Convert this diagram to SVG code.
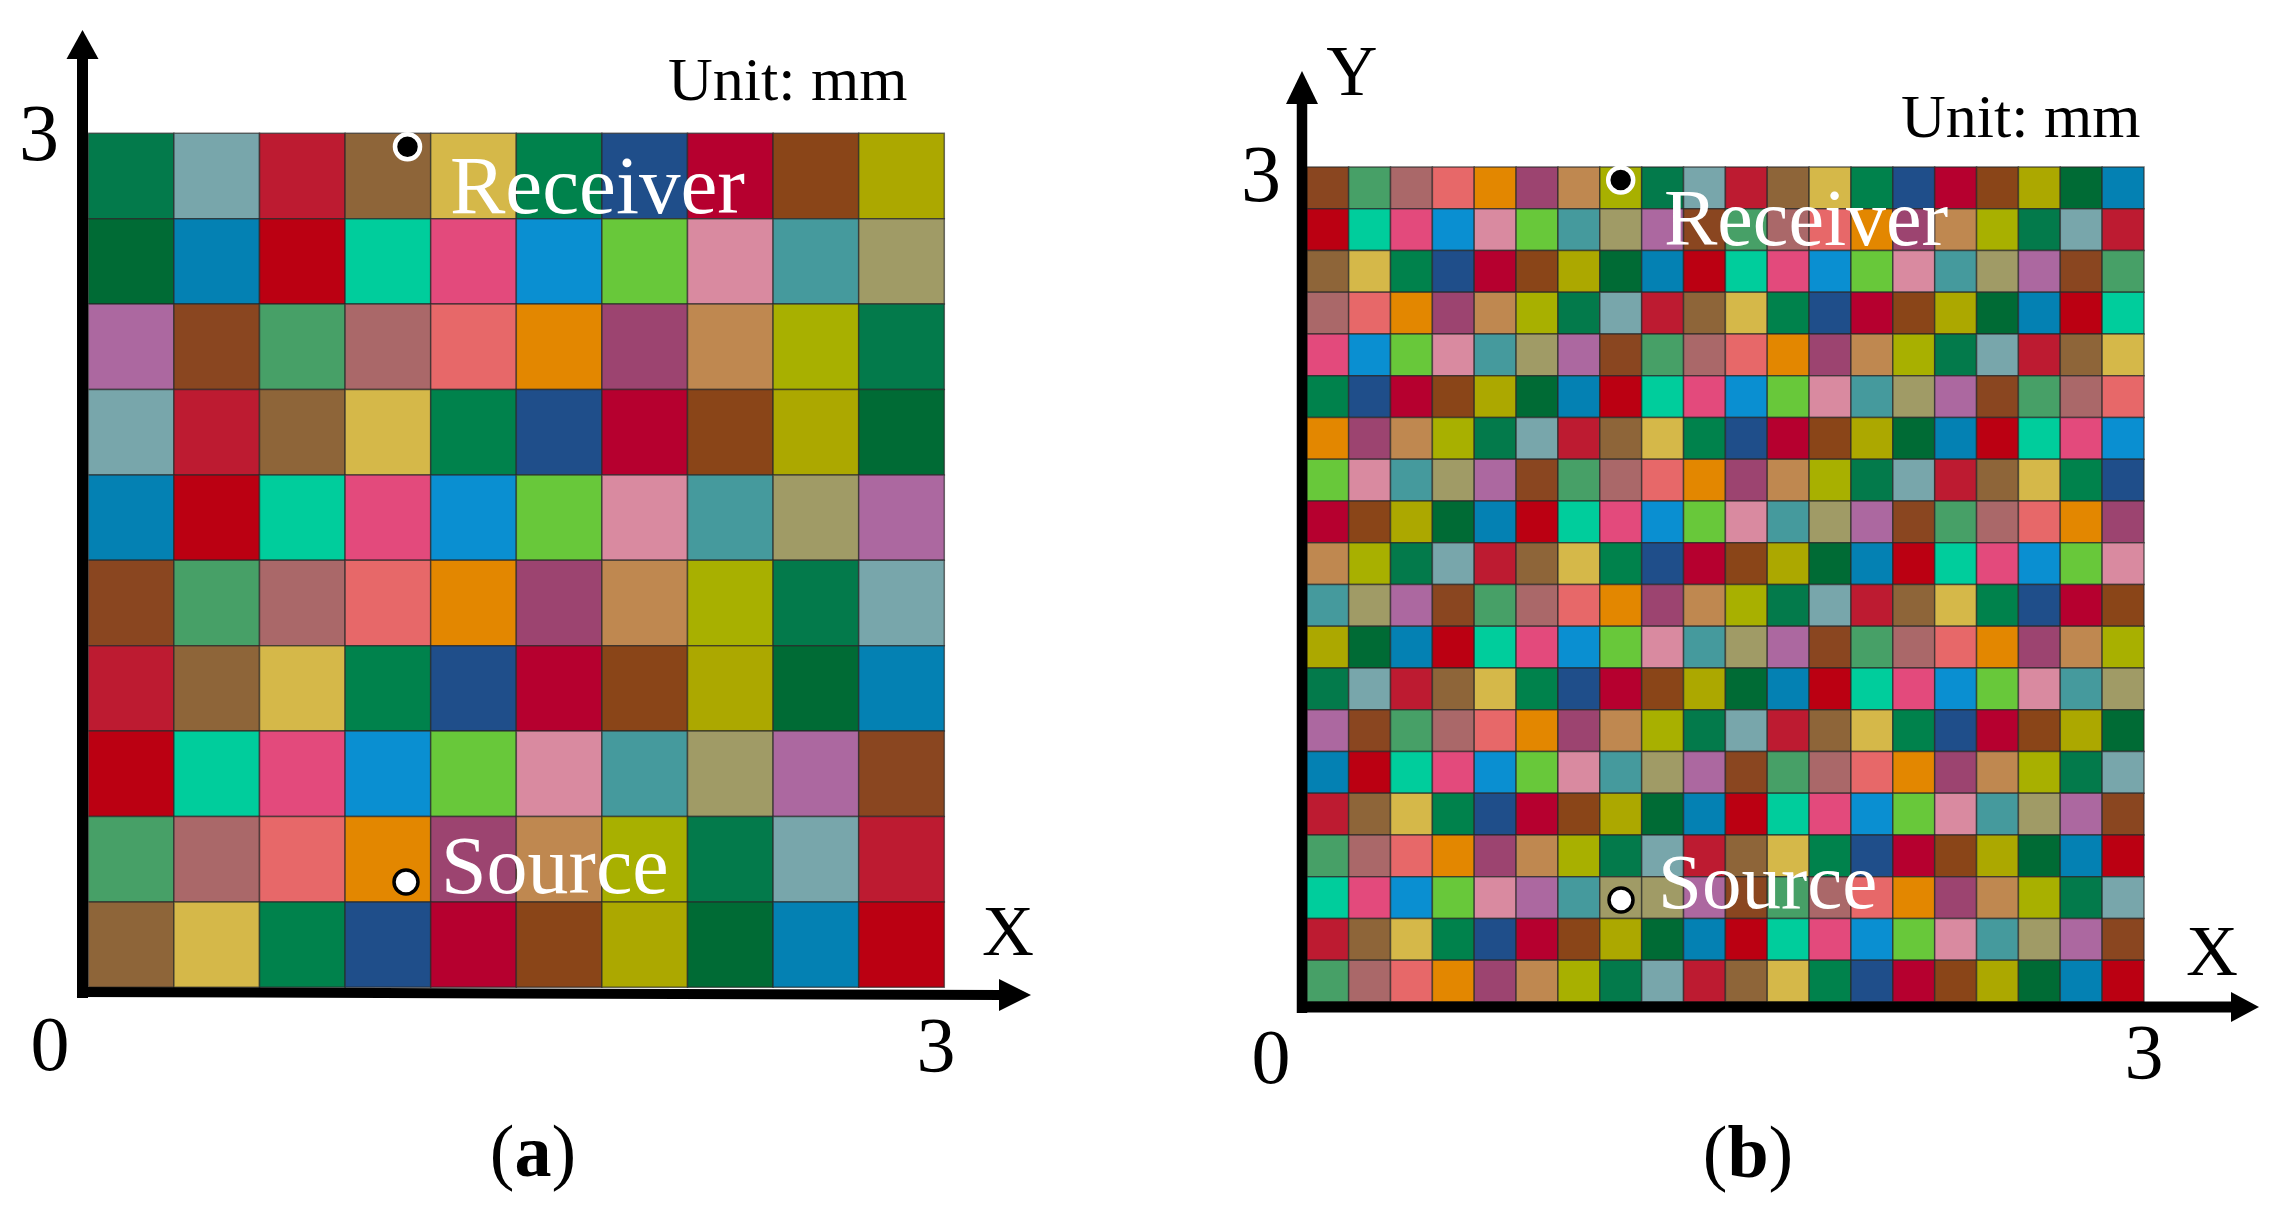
<svg xmlns="http://www.w3.org/2000/svg" width="2292" height="1211" viewBox="0 0 2292 1211">
<style>
.t{font-family:"Liberation Serif","Times New Roman",serif;fill:#000}
.w{font-family:"Liberation Serif","Times New Roman",serif;fill:#fff}
.grid rect{stroke:#262626;stroke-opacity:.65;stroke-width:1.5px;vector-effect:non-scaling-stroke}
.k0{fill:#037a4b}.k1{fill:#78a6ab}.k2{fill:#bd1b31}.k3{fill:#8e6539}.k4{fill:#d5b849}
.k5{fill:#00824c}.k6{fill:#1f4e8a}.k7{fill:#b6002f}.k8{fill:#8a4518}.k9{fill:#aca800}
.k10{fill:#006b35}.k11{fill:#0481b3}.k12{fill:#bb0012}.k13{fill:#00cd9c}.k14{fill:#e34a7c}
.k15{fill:#0a8fd1}.k16{fill:#68c83a}.k17{fill:#d98aa0}.k18{fill:#459a9d}.k19{fill:#a09b66}
.k20{fill:#ac68a0}.k21{fill:#8a4620}.k22{fill:#47a067}.k23{fill:#aa6869}.k24{fill:#e76869}
.k25{fill:#e38700}.k26{fill:#9c4470}.k27{fill:#bf8850}.k28{fill:#a8b000}
.ax{fill:#000}
.rcv{fill:#000;stroke:#fff;stroke-width:4.5}
.src{fill:#fff;stroke:#000;stroke-width:3.5}
</style>
<rect width="2292" height="1211" fill="#fff"/>

<g id="panel-a-grid" class="grid" transform="translate(88.3,133.3) scale(85.6,85.4)">
<rect x="0" y="0" width="1" height="1" class="k0"/><rect x="1" y="0" width="1" height="1" class="k1"/><rect x="2" y="0" width="1" height="1" class="k2"/><rect x="3" y="0" width="1" height="1" class="k3"/><rect x="4" y="0" width="1" height="1" class="k4"/><rect x="5" y="0" width="1" height="1" class="k5"/><rect x="6" y="0" width="1" height="1" class="k6"/><rect x="7" y="0" width="1" height="1" class="k7"/><rect x="8" y="0" width="1" height="1" class="k8"/><rect x="9" y="0" width="1" height="1" class="k9"/>
<rect x="0" y="1" width="1" height="1" class="k10"/><rect x="1" y="1" width="1" height="1" class="k11"/><rect x="2" y="1" width="1" height="1" class="k12"/><rect x="3" y="1" width="1" height="1" class="k13"/><rect x="4" y="1" width="1" height="1" class="k14"/><rect x="5" y="1" width="1" height="1" class="k15"/><rect x="6" y="1" width="1" height="1" class="k16"/><rect x="7" y="1" width="1" height="1" class="k17"/><rect x="8" y="1" width="1" height="1" class="k18"/><rect x="9" y="1" width="1" height="1" class="k19"/>
<rect x="0" y="2" width="1" height="1" class="k20"/><rect x="1" y="2" width="1" height="1" class="k21"/><rect x="2" y="2" width="1" height="1" class="k22"/><rect x="3" y="2" width="1" height="1" class="k23"/><rect x="4" y="2" width="1" height="1" class="k24"/><rect x="5" y="2" width="1" height="1" class="k25"/><rect x="6" y="2" width="1" height="1" class="k26"/><rect x="7" y="2" width="1" height="1" class="k27"/><rect x="8" y="2" width="1" height="1" class="k28"/><rect x="9" y="2" width="1" height="1" class="k0"/>
<rect x="0" y="3" width="1" height="1" class="k1"/><rect x="1" y="3" width="1" height="1" class="k2"/><rect x="2" y="3" width="1" height="1" class="k3"/><rect x="3" y="3" width="1" height="1" class="k4"/><rect x="4" y="3" width="1" height="1" class="k5"/><rect x="5" y="3" width="1" height="1" class="k6"/><rect x="6" y="3" width="1" height="1" class="k7"/><rect x="7" y="3" width="1" height="1" class="k8"/><rect x="8" y="3" width="1" height="1" class="k9"/><rect x="9" y="3" width="1" height="1" class="k10"/>
<rect x="0" y="4" width="1" height="1" class="k11"/><rect x="1" y="4" width="1" height="1" class="k12"/><rect x="2" y="4" width="1" height="1" class="k13"/><rect x="3" y="4" width="1" height="1" class="k14"/><rect x="4" y="4" width="1" height="1" class="k15"/><rect x="5" y="4" width="1" height="1" class="k16"/><rect x="6" y="4" width="1" height="1" class="k17"/><rect x="7" y="4" width="1" height="1" class="k18"/><rect x="8" y="4" width="1" height="1" class="k19"/><rect x="9" y="4" width="1" height="1" class="k20"/>
<rect x="0" y="5" width="1" height="1" class="k21"/><rect x="1" y="5" width="1" height="1" class="k22"/><rect x="2" y="5" width="1" height="1" class="k23"/><rect x="3" y="5" width="1" height="1" class="k24"/><rect x="4" y="5" width="1" height="1" class="k25"/><rect x="5" y="5" width="1" height="1" class="k26"/><rect x="6" y="5" width="1" height="1" class="k27"/><rect x="7" y="5" width="1" height="1" class="k28"/><rect x="8" y="5" width="1" height="1" class="k0"/><rect x="9" y="5" width="1" height="1" class="k1"/>
<rect x="0" y="6" width="1" height="1" class="k2"/><rect x="1" y="6" width="1" height="1" class="k3"/><rect x="2" y="6" width="1" height="1" class="k4"/><rect x="3" y="6" width="1" height="1" class="k5"/><rect x="4" y="6" width="1" height="1" class="k6"/><rect x="5" y="6" width="1" height="1" class="k7"/><rect x="6" y="6" width="1" height="1" class="k8"/><rect x="7" y="6" width="1" height="1" class="k9"/><rect x="8" y="6" width="1" height="1" class="k10"/><rect x="9" y="6" width="1" height="1" class="k11"/>
<rect x="0" y="7" width="1" height="1" class="k12"/><rect x="1" y="7" width="1" height="1" class="k13"/><rect x="2" y="7" width="1" height="1" class="k14"/><rect x="3" y="7" width="1" height="1" class="k15"/><rect x="4" y="7" width="1" height="1" class="k16"/><rect x="5" y="7" width="1" height="1" class="k17"/><rect x="6" y="7" width="1" height="1" class="k18"/><rect x="7" y="7" width="1" height="1" class="k19"/><rect x="8" y="7" width="1" height="1" class="k20"/><rect x="9" y="7" width="1" height="1" class="k21"/>
<rect x="0" y="8" width="1" height="1" class="k22"/><rect x="1" y="8" width="1" height="1" class="k23"/><rect x="2" y="8" width="1" height="1" class="k24"/><rect x="3" y="8" width="1" height="1" class="k25"/><rect x="4" y="8" width="1" height="1" class="k26"/><rect x="5" y="8" width="1" height="1" class="k27"/><rect x="6" y="8" width="1" height="1" class="k28"/><rect x="7" y="8" width="1" height="1" class="k0"/><rect x="8" y="8" width="1" height="1" class="k1"/><rect x="9" y="8" width="1" height="1" class="k2"/>
<rect x="0" y="9" width="1" height="1" class="k3"/><rect x="1" y="9" width="1" height="1" class="k4"/><rect x="2" y="9" width="1" height="1" class="k5"/><rect x="3" y="9" width="1" height="1" class="k6"/><rect x="4" y="9" width="1" height="1" class="k7"/><rect x="5" y="9" width="1" height="1" class="k8"/><rect x="6" y="9" width="1" height="1" class="k9"/><rect x="7" y="9" width="1" height="1" class="k10"/><rect x="8" y="9" width="1" height="1" class="k11"/><rect x="9" y="9" width="1" height="1" class="k12"/>
</g>

<g id="panel-b-grid" class="grid" transform="translate(1306.8,167) scale(41.86,41.75)">
<rect x="0" y="0" width="1" height="1" class="k21"/><rect x="1" y="0" width="1" height="1" class="k22"/><rect x="2" y="0" width="1" height="1" class="k23"/><rect x="3" y="0" width="1" height="1" class="k24"/><rect x="4" y="0" width="1" height="1" class="k25"/><rect x="5" y="0" width="1" height="1" class="k26"/><rect x="6" y="0" width="1" height="1" class="k27"/><rect x="7" y="0" width="1" height="1" class="k28"/><rect x="8" y="0" width="1" height="1" class="k0"/><rect x="9" y="0" width="1" height="1" class="k1"/><rect x="10" y="0" width="1" height="1" class="k2"/><rect x="11" y="0" width="1" height="1" class="k3"/><rect x="12" y="0" width="1" height="1" class="k4"/><rect x="13" y="0" width="1" height="1" class="k5"/><rect x="14" y="0" width="1" height="1" class="k6"/><rect x="15" y="0" width="1" height="1" class="k7"/><rect x="16" y="0" width="1" height="1" class="k8"/><rect x="17" y="0" width="1" height="1" class="k9"/><rect x="18" y="0" width="1" height="1" class="k10"/><rect x="19" y="0" width="1" height="1" class="k11"/>
<rect x="0" y="1" width="1" height="1" class="k12"/><rect x="1" y="1" width="1" height="1" class="k13"/><rect x="2" y="1" width="1" height="1" class="k14"/><rect x="3" y="1" width="1" height="1" class="k15"/><rect x="4" y="1" width="1" height="1" class="k17"/><rect x="5" y="1" width="1" height="1" class="k16"/><rect x="6" y="1" width="1" height="1" class="k18"/><rect x="7" y="1" width="1" height="1" class="k19"/><rect x="8" y="1" width="1" height="1" class="k20"/><rect x="9" y="1" width="1" height="1" class="k21"/><rect x="10" y="1" width="1" height="1" class="k22"/><rect x="11" y="1" width="1" height="1" class="k23"/><rect x="12" y="1" width="1" height="1" class="k24"/><rect x="13" y="1" width="1" height="1" class="k25"/><rect x="14" y="1" width="1" height="1" class="k26"/><rect x="15" y="1" width="1" height="1" class="k27"/><rect x="16" y="1" width="1" height="1" class="k28"/><rect x="17" y="1" width="1" height="1" class="k0"/><rect x="18" y="1" width="1" height="1" class="k1"/><rect x="19" y="1" width="1" height="1" class="k2"/>
<rect x="0" y="2" width="1" height="1" class="k3"/><rect x="1" y="2" width="1" height="1" class="k4"/><rect x="2" y="2" width="1" height="1" class="k5"/><rect x="3" y="2" width="1" height="1" class="k6"/><rect x="4" y="2" width="1" height="1" class="k7"/><rect x="5" y="2" width="1" height="1" class="k8"/><rect x="6" y="2" width="1" height="1" class="k9"/><rect x="7" y="2" width="1" height="1" class="k10"/><rect x="8" y="2" width="1" height="1" class="k11"/><rect x="9" y="2" width="1" height="1" class="k12"/><rect x="10" y="2" width="1" height="1" class="k13"/><rect x="11" y="2" width="1" height="1" class="k14"/><rect x="12" y="2" width="1" height="1" class="k15"/><rect x="13" y="2" width="1" height="1" class="k16"/><rect x="14" y="2" width="1" height="1" class="k17"/><rect x="15" y="2" width="1" height="1" class="k18"/><rect x="16" y="2" width="1" height="1" class="k19"/><rect x="17" y="2" width="1" height="1" class="k20"/><rect x="18" y="2" width="1" height="1" class="k21"/><rect x="19" y="2" width="1" height="1" class="k22"/>
<rect x="0" y="3" width="1" height="1" class="k23"/><rect x="1" y="3" width="1" height="1" class="k24"/><rect x="2" y="3" width="1" height="1" class="k25"/><rect x="3" y="3" width="1" height="1" class="k26"/><rect x="4" y="3" width="1" height="1" class="k27"/><rect x="5" y="3" width="1" height="1" class="k28"/><rect x="6" y="3" width="1" height="1" class="k0"/><rect x="7" y="3" width="1" height="1" class="k1"/><rect x="8" y="3" width="1" height="1" class="k2"/><rect x="9" y="3" width="1" height="1" class="k3"/><rect x="10" y="3" width="1" height="1" class="k4"/><rect x="11" y="3" width="1" height="1" class="k5"/><rect x="12" y="3" width="1" height="1" class="k6"/><rect x="13" y="3" width="1" height="1" class="k7"/><rect x="14" y="3" width="1" height="1" class="k8"/><rect x="15" y="3" width="1" height="1" class="k9"/><rect x="16" y="3" width="1" height="1" class="k10"/><rect x="17" y="3" width="1" height="1" class="k11"/><rect x="18" y="3" width="1" height="1" class="k12"/><rect x="19" y="3" width="1" height="1" class="k13"/>
<rect x="0" y="4" width="1" height="1" class="k14"/><rect x="1" y="4" width="1" height="1" class="k15"/><rect x="2" y="4" width="1" height="1" class="k16"/><rect x="3" y="4" width="1" height="1" class="k17"/><rect x="4" y="4" width="1" height="1" class="k18"/><rect x="5" y="4" width="1" height="1" class="k19"/><rect x="6" y="4" width="1" height="1" class="k20"/><rect x="7" y="4" width="1" height="1" class="k21"/><rect x="8" y="4" width="1" height="1" class="k22"/><rect x="9" y="4" width="1" height="1" class="k23"/><rect x="10" y="4" width="1" height="1" class="k24"/><rect x="11" y="4" width="1" height="1" class="k25"/><rect x="12" y="4" width="1" height="1" class="k26"/><rect x="13" y="4" width="1" height="1" class="k27"/><rect x="14" y="4" width="1" height="1" class="k28"/><rect x="15" y="4" width="1" height="1" class="k0"/><rect x="16" y="4" width="1" height="1" class="k1"/><rect x="17" y="4" width="1" height="1" class="k2"/><rect x="18" y="4" width="1" height="1" class="k3"/><rect x="19" y="4" width="1" height="1" class="k4"/>
<rect x="0" y="5" width="1" height="1" class="k5"/><rect x="1" y="5" width="1" height="1" class="k6"/><rect x="2" y="5" width="1" height="1" class="k7"/><rect x="3" y="5" width="1" height="1" class="k8"/><rect x="4" y="5" width="1" height="1" class="k9"/><rect x="5" y="5" width="1" height="1" class="k10"/><rect x="6" y="5" width="1" height="1" class="k11"/><rect x="7" y="5" width="1" height="1" class="k12"/><rect x="8" y="5" width="1" height="1" class="k13"/><rect x="9" y="5" width="1" height="1" class="k14"/><rect x="10" y="5" width="1" height="1" class="k15"/><rect x="11" y="5" width="1" height="1" class="k16"/><rect x="12" y="5" width="1" height="1" class="k17"/><rect x="13" y="5" width="1" height="1" class="k18"/><rect x="14" y="5" width="1" height="1" class="k19"/><rect x="15" y="5" width="1" height="1" class="k20"/><rect x="16" y="5" width="1" height="1" class="k21"/><rect x="17" y="5" width="1" height="1" class="k22"/><rect x="18" y="5" width="1" height="1" class="k23"/><rect x="19" y="5" width="1" height="1" class="k24"/>
<rect x="0" y="6" width="1" height="1" class="k25"/><rect x="1" y="6" width="1" height="1" class="k26"/><rect x="2" y="6" width="1" height="1" class="k27"/><rect x="3" y="6" width="1" height="1" class="k28"/><rect x="4" y="6" width="1" height="1" class="k0"/><rect x="5" y="6" width="1" height="1" class="k1"/><rect x="6" y="6" width="1" height="1" class="k2"/><rect x="7" y="6" width="1" height="1" class="k3"/><rect x="8" y="6" width="1" height="1" class="k4"/><rect x="9" y="6" width="1" height="1" class="k5"/><rect x="10" y="6" width="1" height="1" class="k6"/><rect x="11" y="6" width="1" height="1" class="k7"/><rect x="12" y="6" width="1" height="1" class="k8"/><rect x="13" y="6" width="1" height="1" class="k9"/><rect x="14" y="6" width="1" height="1" class="k10"/><rect x="15" y="6" width="1" height="1" class="k11"/><rect x="16" y="6" width="1" height="1" class="k12"/><rect x="17" y="6" width="1" height="1" class="k13"/><rect x="18" y="6" width="1" height="1" class="k14"/><rect x="19" y="6" width="1" height="1" class="k15"/>
<rect x="0" y="7" width="1" height="1" class="k16"/><rect x="1" y="7" width="1" height="1" class="k17"/><rect x="2" y="7" width="1" height="1" class="k18"/><rect x="3" y="7" width="1" height="1" class="k19"/><rect x="4" y="7" width="1" height="1" class="k20"/><rect x="5" y="7" width="1" height="1" class="k21"/><rect x="6" y="7" width="1" height="1" class="k22"/><rect x="7" y="7" width="1" height="1" class="k23"/><rect x="8" y="7" width="1" height="1" class="k24"/><rect x="9" y="7" width="1" height="1" class="k25"/><rect x="10" y="7" width="1" height="1" class="k26"/><rect x="11" y="7" width="1" height="1" class="k27"/><rect x="12" y="7" width="1" height="1" class="k28"/><rect x="13" y="7" width="1" height="1" class="k0"/><rect x="14" y="7" width="1" height="1" class="k1"/><rect x="15" y="7" width="1" height="1" class="k2"/><rect x="16" y="7" width="1" height="1" class="k3"/><rect x="17" y="7" width="1" height="1" class="k4"/><rect x="18" y="7" width="1" height="1" class="k5"/><rect x="19" y="7" width="1" height="1" class="k6"/>
<rect x="0" y="8" width="1" height="1" class="k7"/><rect x="1" y="8" width="1" height="1" class="k8"/><rect x="2" y="8" width="1" height="1" class="k9"/><rect x="3" y="8" width="1" height="1" class="k10"/><rect x="4" y="8" width="1" height="1" class="k11"/><rect x="5" y="8" width="1" height="1" class="k12"/><rect x="6" y="8" width="1" height="1" class="k13"/><rect x="7" y="8" width="1" height="1" class="k14"/><rect x="8" y="8" width="1" height="1" class="k15"/><rect x="9" y="8" width="1" height="1" class="k16"/><rect x="10" y="8" width="1" height="1" class="k17"/><rect x="11" y="8" width="1" height="1" class="k18"/><rect x="12" y="8" width="1" height="1" class="k19"/><rect x="13" y="8" width="1" height="1" class="k20"/><rect x="14" y="8" width="1" height="1" class="k21"/><rect x="15" y="8" width="1" height="1" class="k22"/><rect x="16" y="8" width="1" height="1" class="k23"/><rect x="17" y="8" width="1" height="1" class="k24"/><rect x="18" y="8" width="1" height="1" class="k25"/><rect x="19" y="8" width="1" height="1" class="k26"/>
<rect x="0" y="9" width="1" height="1" class="k27"/><rect x="1" y="9" width="1" height="1" class="k28"/><rect x="2" y="9" width="1" height="1" class="k0"/><rect x="3" y="9" width="1" height="1" class="k1"/><rect x="4" y="9" width="1" height="1" class="k2"/><rect x="5" y="9" width="1" height="1" class="k3"/><rect x="6" y="9" width="1" height="1" class="k4"/><rect x="7" y="9" width="1" height="1" class="k5"/><rect x="8" y="9" width="1" height="1" class="k6"/><rect x="9" y="9" width="1" height="1" class="k7"/><rect x="10" y="9" width="1" height="1" class="k8"/><rect x="11" y="9" width="1" height="1" class="k9"/><rect x="12" y="9" width="1" height="1" class="k10"/><rect x="13" y="9" width="1" height="1" class="k11"/><rect x="14" y="9" width="1" height="1" class="k12"/><rect x="15" y="9" width="1" height="1" class="k13"/><rect x="16" y="9" width="1" height="1" class="k14"/><rect x="17" y="9" width="1" height="1" class="k15"/><rect x="18" y="9" width="1" height="1" class="k16"/><rect x="19" y="9" width="1" height="1" class="k17"/>
<rect x="0" y="10" width="1" height="1" class="k18"/><rect x="1" y="10" width="1" height="1" class="k19"/><rect x="2" y="10" width="1" height="1" class="k20"/><rect x="3" y="10" width="1" height="1" class="k21"/><rect x="4" y="10" width="1" height="1" class="k22"/><rect x="5" y="10" width="1" height="1" class="k23"/><rect x="6" y="10" width="1" height="1" class="k24"/><rect x="7" y="10" width="1" height="1" class="k25"/><rect x="8" y="10" width="1" height="1" class="k26"/><rect x="9" y="10" width="1" height="1" class="k27"/><rect x="10" y="10" width="1" height="1" class="k28"/><rect x="11" y="10" width="1" height="1" class="k0"/><rect x="12" y="10" width="1" height="1" class="k1"/><rect x="13" y="10" width="1" height="1" class="k2"/><rect x="14" y="10" width="1" height="1" class="k3"/><rect x="15" y="10" width="1" height="1" class="k4"/><rect x="16" y="10" width="1" height="1" class="k5"/><rect x="17" y="10" width="1" height="1" class="k6"/><rect x="18" y="10" width="1" height="1" class="k7"/><rect x="19" y="10" width="1" height="1" class="k8"/>
<rect x="0" y="11" width="1" height="1" class="k9"/><rect x="1" y="11" width="1" height="1" class="k10"/><rect x="2" y="11" width="1" height="1" class="k11"/><rect x="3" y="11" width="1" height="1" class="k12"/><rect x="4" y="11" width="1" height="1" class="k13"/><rect x="5" y="11" width="1" height="1" class="k14"/><rect x="6" y="11" width="1" height="1" class="k15"/><rect x="7" y="11" width="1" height="1" class="k16"/><rect x="8" y="11" width="1" height="1" class="k17"/><rect x="9" y="11" width="1" height="1" class="k18"/><rect x="10" y="11" width="1" height="1" class="k19"/><rect x="11" y="11" width="1" height="1" class="k20"/><rect x="12" y="11" width="1" height="1" class="k21"/><rect x="13" y="11" width="1" height="1" class="k22"/><rect x="14" y="11" width="1" height="1" class="k23"/><rect x="15" y="11" width="1" height="1" class="k24"/><rect x="16" y="11" width="1" height="1" class="k25"/><rect x="17" y="11" width="1" height="1" class="k26"/><rect x="18" y="11" width="1" height="1" class="k27"/><rect x="19" y="11" width="1" height="1" class="k28"/>
<rect x="0" y="12" width="1" height="1" class="k0"/><rect x="1" y="12" width="1" height="1" class="k1"/><rect x="2" y="12" width="1" height="1" class="k2"/><rect x="3" y="12" width="1" height="1" class="k3"/><rect x="4" y="12" width="1" height="1" class="k4"/><rect x="5" y="12" width="1" height="1" class="k5"/><rect x="6" y="12" width="1" height="1" class="k6"/><rect x="7" y="12" width="1" height="1" class="k7"/><rect x="8" y="12" width="1" height="1" class="k8"/><rect x="9" y="12" width="1" height="1" class="k9"/><rect x="10" y="12" width="1" height="1" class="k10"/><rect x="11" y="12" width="1" height="1" class="k11"/><rect x="12" y="12" width="1" height="1" class="k12"/><rect x="13" y="12" width="1" height="1" class="k13"/><rect x="14" y="12" width="1" height="1" class="k14"/><rect x="15" y="12" width="1" height="1" class="k15"/><rect x="16" y="12" width="1" height="1" class="k16"/><rect x="17" y="12" width="1" height="1" class="k17"/><rect x="18" y="12" width="1" height="1" class="k18"/><rect x="19" y="12" width="1" height="1" class="k19"/>
<rect x="0" y="13" width="1" height="1" class="k20"/><rect x="1" y="13" width="1" height="1" class="k21"/><rect x="2" y="13" width="1" height="1" class="k22"/><rect x="3" y="13" width="1" height="1" class="k23"/><rect x="4" y="13" width="1" height="1" class="k24"/><rect x="5" y="13" width="1" height="1" class="k25"/><rect x="6" y="13" width="1" height="1" class="k26"/><rect x="7" y="13" width="1" height="1" class="k27"/><rect x="8" y="13" width="1" height="1" class="k28"/><rect x="9" y="13" width="1" height="1" class="k0"/><rect x="10" y="13" width="1" height="1" class="k1"/><rect x="11" y="13" width="1" height="1" class="k2"/><rect x="12" y="13" width="1" height="1" class="k3"/><rect x="13" y="13" width="1" height="1" class="k4"/><rect x="14" y="13" width="1" height="1" class="k5"/><rect x="15" y="13" width="1" height="1" class="k6"/><rect x="16" y="13" width="1" height="1" class="k7"/><rect x="17" y="13" width="1" height="1" class="k8"/><rect x="18" y="13" width="1" height="1" class="k9"/><rect x="19" y="13" width="1" height="1" class="k10"/>
<rect x="0" y="14" width="1" height="1" class="k11"/><rect x="1" y="14" width="1" height="1" class="k12"/><rect x="2" y="14" width="1" height="1" class="k13"/><rect x="3" y="14" width="1" height="1" class="k14"/><rect x="4" y="14" width="1" height="1" class="k15"/><rect x="5" y="14" width="1" height="1" class="k16"/><rect x="6" y="14" width="1" height="1" class="k17"/><rect x="7" y="14" width="1" height="1" class="k18"/><rect x="8" y="14" width="1" height="1" class="k19"/><rect x="9" y="14" width="1" height="1" class="k20"/><rect x="10" y="14" width="1" height="1" class="k21"/><rect x="11" y="14" width="1" height="1" class="k22"/><rect x="12" y="14" width="1" height="1" class="k23"/><rect x="13" y="14" width="1" height="1" class="k24"/><rect x="14" y="14" width="1" height="1" class="k25"/><rect x="15" y="14" width="1" height="1" class="k26"/><rect x="16" y="14" width="1" height="1" class="k27"/><rect x="17" y="14" width="1" height="1" class="k28"/><rect x="18" y="14" width="1" height="1" class="k0"/><rect x="19" y="14" width="1" height="1" class="k1"/>
<rect x="0" y="15" width="1" height="1" class="k2"/><rect x="1" y="15" width="1" height="1" class="k3"/><rect x="2" y="15" width="1" height="1" class="k4"/><rect x="3" y="15" width="1" height="1" class="k5"/><rect x="4" y="15" width="1" height="1" class="k6"/><rect x="5" y="15" width="1" height="1" class="k7"/><rect x="6" y="15" width="1" height="1" class="k8"/><rect x="7" y="15" width="1" height="1" class="k9"/><rect x="8" y="15" width="1" height="1" class="k10"/><rect x="9" y="15" width="1" height="1" class="k11"/><rect x="10" y="15" width="1" height="1" class="k12"/><rect x="11" y="15" width="1" height="1" class="k13"/><rect x="12" y="15" width="1" height="1" class="k14"/><rect x="13" y="15" width="1" height="1" class="k15"/><rect x="14" y="15" width="1" height="1" class="k16"/><rect x="15" y="15" width="1" height="1" class="k17"/><rect x="16" y="15" width="1" height="1" class="k18"/><rect x="17" y="15" width="1" height="1" class="k19"/><rect x="18" y="15" width="1" height="1" class="k20"/><rect x="19" y="15" width="1" height="1" class="k21"/>
<rect x="0" y="16" width="1" height="1" class="k22"/><rect x="1" y="16" width="1" height="1" class="k23"/><rect x="2" y="16" width="1" height="1" class="k24"/><rect x="3" y="16" width="1" height="1" class="k25"/><rect x="4" y="16" width="1" height="1" class="k26"/><rect x="5" y="16" width="1" height="1" class="k27"/><rect x="6" y="16" width="1" height="1" class="k28"/><rect x="7" y="16" width="1" height="1" class="k0"/><rect x="8" y="16" width="1" height="1" class="k1"/><rect x="9" y="16" width="1" height="1" class="k2"/><rect x="10" y="16" width="1" height="1" class="k3"/><rect x="11" y="16" width="1" height="1" class="k4"/><rect x="12" y="16" width="1" height="1" class="k5"/><rect x="13" y="16" width="1" height="1" class="k6"/><rect x="14" y="16" width="1" height="1" class="k7"/><rect x="15" y="16" width="1" height="1" class="k8"/><rect x="16" y="16" width="1" height="1" class="k9"/><rect x="17" y="16" width="1" height="1" class="k10"/><rect x="18" y="16" width="1" height="1" class="k11"/><rect x="19" y="16" width="1" height="1" class="k12"/>
<rect x="0" y="17" width="1" height="1" class="k13"/><rect x="1" y="17" width="1" height="1" class="k14"/><rect x="2" y="17" width="1" height="1" class="k15"/><rect x="3" y="17" width="1" height="1" class="k16"/><rect x="4" y="17" width="1" height="1" class="k17"/><rect x="5" y="17" width="1" height="1" class="k20"/><rect x="6" y="17" width="1" height="1" class="k18"/><rect x="7" y="17" width="1" height="1" class="k19"/><rect x="8" y="17" width="1" height="1" class="k19"/><rect x="9" y="17" width="1" height="1" class="k20"/><rect x="10" y="17" width="1" height="1" class="k21"/><rect x="11" y="17" width="1" height="1" class="k22"/><rect x="12" y="17" width="1" height="1" class="k23"/><rect x="13" y="17" width="1" height="1" class="k24"/><rect x="14" y="17" width="1" height="1" class="k25"/><rect x="15" y="17" width="1" height="1" class="k26"/><rect x="16" y="17" width="1" height="1" class="k27"/><rect x="17" y="17" width="1" height="1" class="k28"/><rect x="18" y="17" width="1" height="1" class="k0"/><rect x="19" y="17" width="1" height="1" class="k1"/>
<rect x="0" y="18" width="1" height="1" class="k2"/><rect x="1" y="18" width="1" height="1" class="k3"/><rect x="2" y="18" width="1" height="1" class="k4"/><rect x="3" y="18" width="1" height="1" class="k5"/><rect x="4" y="18" width="1" height="1" class="k6"/><rect x="5" y="18" width="1" height="1" class="k7"/><rect x="6" y="18" width="1" height="1" class="k8"/><rect x="7" y="18" width="1" height="1" class="k9"/><rect x="8" y="18" width="1" height="1" class="k10"/><rect x="9" y="18" width="1" height="1" class="k11"/><rect x="10" y="18" width="1" height="1" class="k12"/><rect x="11" y="18" width="1" height="1" class="k13"/><rect x="12" y="18" width="1" height="1" class="k14"/><rect x="13" y="18" width="1" height="1" class="k15"/><rect x="14" y="18" width="1" height="1" class="k16"/><rect x="15" y="18" width="1" height="1" class="k17"/><rect x="16" y="18" width="1" height="1" class="k18"/><rect x="17" y="18" width="1" height="1" class="k19"/><rect x="18" y="18" width="1" height="1" class="k20"/><rect x="19" y="18" width="1" height="1" class="k21"/>
<rect x="0" y="19" width="1" height="1" class="k22"/><rect x="1" y="19" width="1" height="1" class="k23"/><rect x="2" y="19" width="1" height="1" class="k24"/><rect x="3" y="19" width="1" height="1" class="k25"/><rect x="4" y="19" width="1" height="1" class="k26"/><rect x="5" y="19" width="1" height="1" class="k27"/><rect x="6" y="19" width="1" height="1" class="k28"/><rect x="7" y="19" width="1" height="1" class="k0"/><rect x="8" y="19" width="1" height="1" class="k1"/><rect x="9" y="19" width="1" height="1" class="k2"/><rect x="10" y="19" width="1" height="1" class="k3"/><rect x="11" y="19" width="1" height="1" class="k4"/><rect x="12" y="19" width="1" height="1" class="k5"/><rect x="13" y="19" width="1" height="1" class="k6"/><rect x="14" y="19" width="1" height="1" class="k7"/><rect x="15" y="19" width="1" height="1" class="k8"/><rect x="16" y="19" width="1" height="1" class="k9"/><rect x="17" y="19" width="1" height="1" class="k10"/><rect x="18" y="19" width="1" height="1" class="k11"/><rect x="19" y="19" width="1" height="1" class="k12"/>
</g>

<g id="axes-a">
<line x1="82.5" y1="55" x2="82.5" y2="998" stroke="#000" stroke-width="11"/>
<polygon class="ax" points="82.5,30 66.5,59 98.5,59"/>
<line x1="77" y1="992" x2="1002" y2="995" stroke="#000" stroke-width="10"/>
<polygon class="ax" points="1031,995 999,979 999,1011"/>
</g>
<g id="axes-b">
<line x1="1302" y1="100" x2="1302" y2="1013" stroke="#000" stroke-width="10.5"/>
<polygon class="ax" points="1302,71 1286,104 1318,104"/>
<line x1="1297" y1="1007" x2="2234" y2="1007" stroke="#000" stroke-width="11"/>
<polygon class="ax" points="2259,1007 2231,992 2231,1022"/>
</g>

<g id="labels-a">
<text class="t" x="39" y="160" font-size="80" text-anchor="middle">3</text>
<text class="t" x="668" y="100" font-size="62">Unit: mm</text>
<text class="t" x="50" y="1070" font-size="78" text-anchor="middle">0</text>
<text class="t" x="936" y="1071" font-size="78" text-anchor="middle">3</text>
<text class="t" x="1008" y="955" font-size="72" text-anchor="middle">X</text>
<text class="t" x="533" y="1176" font-size="74" text-anchor="middle">(<tspan font-weight="bold">a</tspan>)</text>
</g>
<g id="labels-b">
<text class="t" x="1352" y="95" font-size="71" text-anchor="middle">Y</text>
<text class="t" x="1261" y="201" font-size="80" text-anchor="middle">3</text>
<text class="t" x="1901" y="137" font-size="62">Unit: mm</text>
<text class="t" x="1271" y="1083" font-size="78" text-anchor="middle">0</text>
<text class="t" x="2144" y="1078" font-size="78" text-anchor="middle">3</text>
<text class="t" x="2212" y="975" font-size="72" text-anchor="middle">X</text>
<text class="t" x="1748" y="1177" font-size="74" text-anchor="middle">(<tspan font-weight="bold">b</tspan>)</text>
</g>

<g id="receiver-a"><circle class="rcv" cx="407.5" cy="146.7" r="12.5"/><text class="w" x="450" y="213" font-size="83">Receiver</text></g>
<g id="source-a"><circle class="src" cx="406" cy="882" r="12"/><text class="w" x="441" y="893" font-size="82">Source</text></g>
<g id="receiver-b"><circle class="rcv" cx="1620.7" cy="180" r="12.5"/><text class="w" x="1664" y="245" font-size="80">Receiver</text></g>
<g id="source-b"><circle class="src" cx="1621" cy="900" r="12"/><text class="w" x="1658" y="908" font-size="79">Source</text></g>
</svg>
